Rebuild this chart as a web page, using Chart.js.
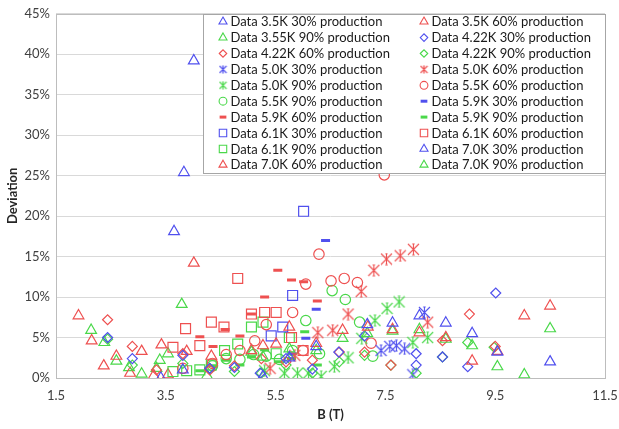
<!DOCTYPE html>
<html>
<head>
<meta charset="utf-8">
<script src="https://cdn.jsdelivr.net/npm/chart.js@4.4.0/dist/chart.umd.min.js"></script>
<style>
  html, body { margin: 0; padding: 0; background: #fff; }
</style>
</head>
<body>
<canvas id="chartCanvas" width="619" height="429"></canvas>
<script>
// tick labels
const xTicks = [1.5, 3.5, 5.5, 7.5, 9.5, 11.5];
const yTicks = [0, 5, 10, 15, 20, 25, 30, 35, 40, 45];

// [B (T), deviation %]
const d35_30 = [[3.81, 1.0], [5.27, 0.2], [5.75, 2.5], [6.24, 3.9], [7.17, 6.6], [7.63, 6.8], [8.12, 7.7], [8.6, 6.8], [9.08, 5.5], [9.54, 3.2], [10.5, 2.0]];
const d35_60 = [[4.33, 2.7], [5.06, 3.4], [5.27, 4.0], [5.51, 4.2], [5.75, 6.3], [6.24, 4.3], [6.72, 5.9], [7.18, 6.3], [7.63, 6.0], [8.12, 5.6], [8.6, 5.0], [9.08, 2.1], [9.54, 3.3], [10.03, 7.7], [10.5, 8.9]];
const d355_90 = [[5.06, 3.2], [5.27, 2.6], [5.75, 3.6], [6.24, 3.4], [6.72, 4.9], [7.17, 5.5], [7.63, 5.8], [8.12, 6.0], [8.6, 4.8], [9.08, 4.0], [9.54, 1.4], [10.03, 0.4], [10.5, 6.1]];
const d422_30 = [[2.44, 5.0], [2.89, 2.4], [3.81, 2.8], [4.3, 1.2], [4.75, 1.3], [5.22, 0.6], [5.69, 2.4], [6.17, 1.1], [6.65, 3.2], [7.12, 5.2], [8.06, 3.0], [8.06, 1.6], [8.54, 2.6], [9.0, 1.4], [9.51, 10.5]];
const d422_60 = [[2.44, 7.2], [2.89, 3.9], [3.33, 1.0], [3.81, 3.0], [4.3, 1.0], [4.75, 1.5], [5.24, 2.4], [5.69, 2.0], [6.17, 2.2], [6.66, 3.2], [7.12, 3.2], [7.6, 1.6], [8.54, 4.6], [9.03, 7.9], [9.5, 3.9]];
const d422_90 = [[2.44, 4.8], [2.89, 1.6], [3.81, 1.8], [4.3, 1.2], [4.75, 0.8], [5.24, 0.6], [5.69, 1.6], [6.17, 0.6], [6.66, 2.0], [7.12, 2.8], [7.6, 1.6], [8.06, 0.6], [8.54, 2.6], [9.0, 4.4], [9.48, 3.8]];
const d50_30 = [[7.42, 3.4], [7.58, 3.9], [7.7, 4.0], [7.85, 3.6], [8.0, 0.4], [8.21, 8.1]];
const d50_60 = [[5.4, 1.2], [5.85, 2.8], [6.27, 5.6], [6.54, 5.9], [6.82, 7.9], [7.06, 10.7], [7.29, 13.3], [7.52, 14.7], [7.77, 15.1], [8.01, 15.9], [8.27, 6.9]];
const d50_90 = [[5.3, 0.9], [5.66, 0.6], [5.9, 0.6], [6.1, 0.6], [6.33, 0.2], [6.57, 1.4], [6.82, 2.5], [7.07, 4.9], [7.31, 7.1], [7.53, 8.6], [7.75, 9.4], [8.0, 4.4], [8.27, 5.0]];
const d55_60 = [[3.81, 1.2], [4.35, 1.8], [4.6, 2.9], [4.85, 3.4], [5.12, 4.6], [5.33, 6.6], [5.81, 8.1], [6.0, 3.4], [6.05, 11.6], [6.29, 15.3], [6.51, 12.0], [6.75, 12.3], [6.99, 11.8], [7.24, 4.3], [7.48, 25.1]];
const d55_90 = [[4.35, 1.5], [4.6, 2.4], [4.85, 2.3], [5.1, 2.9], [5.33, 2.7], [5.57, 2.3], [5.81, 3.4], [6.05, 7.1], [6.3, 3.0], [6.53, 10.8], [6.77, 9.7], [7.03, 6.9], [7.27, 2.7]];
const d59_30 = [[5.8, 3.0], [6.05, 4.9], [6.24, 8.5], [6.41, 17.0]];
const d59_60 = [[4.12, 5.1], [4.36, 3.9], [4.58, 6.0], [4.85, 5.2], [5.06, 7.9], [5.3, 10.0], [5.54, 13.3], [5.79, 12.1], [6.01, 11.9], [6.26, 9.5]];
const d59_90 = [[4.12, 0.9], [4.36, 1.5], [4.6, 2.2], [4.85, 1.6], [5.06, 2.6], [5.3, 3.5], [5.55, 2.0], [5.79, 2.4], [6.03, 5.7], [6.26, 1.6]];
const d61_30 = [[5.42, 5.2], [5.63, 6.3], [5.81, 10.2], [6.01, 20.6]];
const d61_60 = [[3.63, 3.8], [3.86, 6.1], [4.12, 4.0], [4.33, 6.9], [4.56, 6.3], [4.81, 12.3], [5.06, 7.9], [5.3, 8.1], [5.51, 8.1], [5.79, 5.0], [6.0, 3.4]];
const d61_90 = [[3.63, 0.8], [3.88, 0.9], [4.12, 1.0], [4.33, 1.6], [4.57, 3.4], [4.81, 4.2], [5.06, 6.3], [5.27, 6.9], [5.51, 3.0], [5.75, 5.0]];
const d70_30 = [[3.41, 0.0], [3.65, 18.1], [3.83, 25.4], [4.01, 39.2]];
const d70_60 = [[1.91, 7.7], [2.15, 4.6], [2.37, 1.5], [2.6, 2.7], [2.85, 0.6], [3.06, 3.3], [3.28, 0.3], [3.42, 4.1], [3.54, 0.4], [3.88, 3.3], [4.01, 14.2]];
const d70_90 = [[2.14, 5.9], [2.38, 4.4], [2.6, 2.1], [2.83, 1.3], [3.06, 0.5], [3.33, 1.2], [3.39, 2.2], [3.54, 3.0], [3.79, 9.1], [4.25, 0.3]];

const seriesNames = [
    'Data 3.5K 30% production', 'Data 3.5K 60% production', 'Data 3.55K 90% production',
    'Data 4.22K 30% production', 'Data 4.22K 60% production', 'Data 4.22K 90% production',
    'Data 5.0K 30% production', 'Data 5.0K 60% production', 'Data 5.0K 90% production',
    'Data 5.5K 60% production', 'Data 5.5K 90% production',
    'Data 5.9K 30% production', 'Data 5.9K 60% production', 'Data 5.9K 90% production',
    'Data 6.1K 30% production', 'Data 6.1K 60% production', 'Data 6.1K 90% production',
    'Data 7.0K 30% production', 'Data 7.0K 60% production', 'Data 7.0K 90% production'
];
const seriesData = [d35_30, d35_60, d355_90, d422_30, d422_60, d422_90, d50_30, d50_60, d50_90,
    d55_60, d55_90, d59_30, d59_60, d59_90, d61_30, d61_60, d61_90, d70_30, d70_60, d70_90];

const BLUE = '#5050ee', RED = '#ee5050', GREEN = '#4ad84a';
const FONT = 'Lato';
const seriesColor = [BLUE, RED, GREEN, BLUE, RED, GREEN, BLUE, RED, GREEN, RED, GREEN,
    BLUE, RED, GREEN, BLUE, RED, GREEN, BLUE, RED, GREEN];
const seriesShape = ['triangle', 'triangle', 'triangle', 'rectRot', 'rectRot', 'rectRot',
    'star', 'star', 'star', 'circle', 'circle', 'line', 'line', 'line',
    'rect', 'rect', 'rect', 'triangle', 'triangle', 'triangle'];
const shapeRadius = { triangle: 6.2, rectRot: 5, star: 5.5, circle: 5.2, line: 4.5, rect: 7 };

// excel-like star marker (x + vertical bar, tiny caps)
function makeStar(color, s) {
    const c = document.createElement('canvas');
    c.width = s; c.height = s;
    const g = c.getContext('2d');
    g.strokeStyle = color;
    g.lineWidth = 1.1;
    const m = s / 2, a = s / 2 - 1;
    g.beginPath();
    g.moveTo(m - a, m - a); g.lineTo(m + a, m + a);
    g.moveTo(m + a, m - a); g.lineTo(m - a, m + a);
    g.moveTo(m, m - a); g.lineTo(m, m + a);
    g.moveTo(m - a * 0.22, m - a); g.lineTo(m + a * 0.22, m - a);
    g.moveTo(m - a * 0.22, m + a); g.lineTo(m + a * 0.22, m + a);
    g.stroke();
    return c;
}

function markerFor(i, small) {
    const shape = seriesShape[i];
    if (shape === 'star') return makeStar(seriesColor[i], small ? 9 : 13);
    return shape;
}

const datasets = seriesData.map((pts, i) => ({
    label: seriesNames[i],
    data: pts.map(p => ({ x: p[0], y: p[1] })),
    pointStyle: markerFor(i, false),
    legendStyle: markerFor(i, true),
    pointRadius: shapeRadius[seriesShape[i]],
    pointHoverRadius: shapeRadius[seriesShape[i]],
    borderColor: seriesColor[i],
    backgroundColor: 'rgba(0,0,0,0)',
    pointBorderWidth: seriesShape[i] === 'line' ? 3 : 1.2,
    showLine: false
}));

const plotFrame = {
    id: 'plotFrame',
    beforeDatasetsDraw(chart) {
        const { ctx, chartArea: a } = chart;
        ctx.save();
        ctx.strokeStyle = '#bdbdbd';
        ctx.lineWidth = 1;
        ctx.strokeRect(Math.round(a.left) + 0.5, Math.round(a.top) + 0.5,
            Math.round(a.right - a.left), Math.round(a.bottom - a.top));
        ctx.restore();
    }
};

const boxLegend = {
    id: 'boxLegend',
    afterDraw(chart) {
        const { ctx, chartArea: a } = chart;
        const w = 402, h = 159;
        const x0 = Math.round(a.right) - w, y0 = Math.round(a.top);
        ctx.save();
        ctx.fillStyle = '#fff';
        ctx.fillRect(x0, y0, w, h);
        ctx.strokeStyle = '#a6a6a6';
        ctx.lineWidth = 1;
        ctx.strokeRect(x0 + 0.5, y0 + 0.5, w, h);
        chart.data.datasets.forEach((ds, i) => {
            const col = i % 2, row = Math.floor(i / 2);
            const mx = x0 + 20 + col * 201;
            const my = y0 + 7.7 + row * 15.9;
            ctx.strokeStyle = ds.borderColor;
            ctx.fillStyle = 'rgba(0,0,0,0)';
            ctx.lineWidth = seriesShape[i] === 'line' ? 3 : 1.1;
            Chart.helpers.drawPoint(ctx, {
                pointStyle: ds.legendStyle,
                radius: ds.pointRadius * 0.75,
                borderWidth: ctx.lineWidth,
                rotation: 0
            }, mx, my);
            ctx.fillStyle = '#1a1a1a';
            ctx.font = '13px ' + FONT;
            ctx.textBaseline = 'middle';
            ctx.textAlign = 'left';
            ctx.fillText(ds.label, mx + 7.5, my + 0.5);
        });
        ctx.restore();
    }
};

const ctx = document.getElementById('chartCanvas').getContext('2d');
new Chart(ctx, {
    type: 'scatter',
    data: { datasets: datasets },
    options: {
        responsive: false,
        animation: false,
        events: [],
        layout: { padding: { top: 9, right: 0, left: 0, bottom: 0 } },
        plugins: {
            legend: { display: false },
            tooltip: { enabled: false }
        },
        scales: {
            x: {
                type: 'linear',
                min: 1.5,
                max: 11.5,
                afterBuildTicks: scale => { scale.ticks = xTicks.map(v => ({ value: v })); },
                afterFit: scale => {
                    scale.height = 51;
                    scale.paddingRight = 14;
                    scale.paddingLeft = 14;
                },
                ticks: {
                    color: '#404040',
                    font: { family: FONT, size: 13 },
                    padding: 10,
                    maxRotation: 0,
                    callback: v => v.toFixed(1)
                },
                grid: { display: false, drawTicks: false },
                border: { display: false },
                title: {
                    display: true,
                    text: 'B (T)',
                    color: '#262626',
                    font: { family: FONT, size: 13, weight: 'bold' },
                    padding: { top: 0, bottom: 6 }
                }
            },
            y: {
                min: 0,
                max: 45,
                afterBuildTicks: scale => { scale.ticks = yTicks.map(v => ({ value: v })); },
                afterFit: scale => { scale.width = 56; },
                ticks: {
                    color: '#404040',
                    font: { family: FONT, size: 13 },
                    padding: 6,
                    callback: v => v + '%'
                },
                grid: { color: '#d9d9d9', drawTicks: false },
                border: { display: false },
                title: {
                    display: true,
                    text: 'Deviation',
                    color: '#262626',
                    font: { family: FONT, size: 13, weight: 'bold' },
                    padding: { top: 5, bottom: 0 }
                }
            }
        }
    },
    plugins: [plotFrame, boxLegend]
});
</script>
</body>
</html>
